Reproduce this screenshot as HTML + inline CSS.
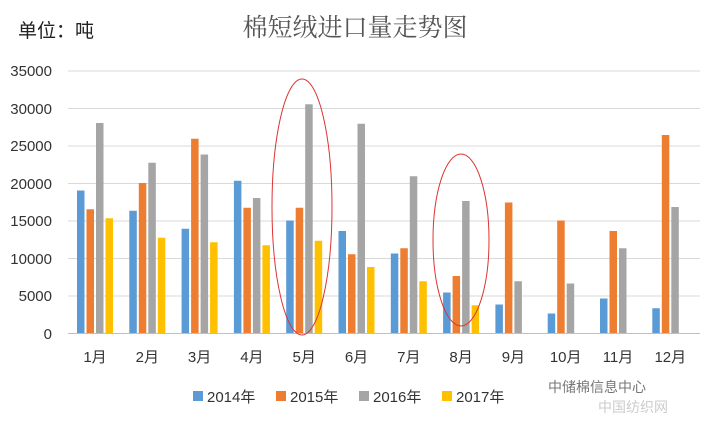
<!DOCTYPE html>
<html><head><meta charset="utf-8"><style>
body{margin:0;background:#fff;}
svg text{font-family:"Liberation Sans","Noto Sans CJK SC",sans-serif;}
</style></head><body>
<svg width="708" height="420" xmlns="http://www.w3.org/2000/svg">
<rect width="708" height="420" fill="#fff"/>
<text x="18" y="37" font-size="19" fill="#222">单位：吨</text>
<text x="355" y="36" font-size="25" fill="#555" text-anchor="middle" style="font-family:'Noto Serif CJK SC',serif">棉短绒进口量走势图</text>
<g stroke="#d9d9d9" stroke-width="1">
<line x1="68" y1="71" x2="700" y2="71"/><line x1="68" y1="108.5" x2="700" y2="108.5"/>
<line x1="68" y1="146" x2="700" y2="146"/><line x1="68" y1="183.5" x2="700" y2="183.5"/>
<line x1="68" y1="221" x2="700" y2="221"/><line x1="68" y1="258.5" x2="700" y2="258.5"/>
<line x1="68" y1="296" x2="700" y2="296"/>
</g>
<line x1="68" y1="333.5" x2="700" y2="333.5" stroke="#bfbfbf"/>
<g font-size="15" fill="#333" text-anchor="end">
<text x="52" y="76">35000</text><text x="52" y="114">30000</text><text x="52" y="151">25000</text>
<text x="52" y="189">20000</text><text x="52" y="226">15000</text><text x="52" y="264">10000</text>
<text x="52" y="301">5000</text><text x="52" y="339">0</text>
</g>
<g id="bars"></g>
<g font-size="15" fill="#333" text-anchor="middle" id="xl"></g>
<ellipse cx="302" cy="207" rx="30" ry="128" fill="none" stroke="#d33" stroke-width="1"/>
<ellipse cx="461" cy="240" rx="28" ry="86" fill="none" stroke="#d33" stroke-width="1"/>
<g font-size="15" fill="#333">
<rect x="193" y="391" width="10" height="10" fill="#5B9BD5"/><text x="207" y="402">2014年</text>
<rect x="276" y="391" width="10" height="10" fill="#ED7D31"/><text x="290" y="402">2015年</text>
<rect x="359" y="391" width="10" height="10" fill="#A5A5A5"/><text x="373" y="402">2016年</text>
<rect x="442" y="391" width="10" height="10" fill="#FFC000"/><text x="456" y="402">2017年</text>
</g>
<text x="548" y="392" font-size="14" fill="#777">中储棉信息中心</text>
<text x="598" y="412" font-size="14" fill="#ccc">中国纺织网</text>
<script>
var d=[[19000,16500,28000,15300],[16300,20000,22700,12700],[13900,25900,23800,12100],[20300,16700,18000,11700],[15000,16700,30500,12300],[13600,10500,27900,8800],[10600,11300,20900,6900],[5400,7600,17600,3700],[3800,17400,6900,0],[2600,15000,6600,0],[4600,13600,11300,0],[3300,26400,16800,0]];
var c=["#5B9BD5","#ED7D31","#A5A5A5","#FFC000"];
var g=document.getElementById("bars"),xl=document.getElementById("xl"),ns="http://www.w3.org/2000/svg";
for(var i=0;i<12;i++){var cx=95+i*52.3;
for(var j=0;j<4;j++){var v=d[i][j];if(!v)continue;var h=v*0.0075;var r=document.createElementNS(ns,"rect");
r.setAttribute("x",cx-18+j*9.5);r.setAttribute("y",333-h);r.setAttribute("width",7.5);r.setAttribute("height",h);r.setAttribute("fill",c[j]);g.appendChild(r);}
var t=document.createElementNS(ns,"text");t.setAttribute("x",cx);t.setAttribute("y",362);t.textContent=(i+1)+"月";xl.appendChild(t);}
</script>
</svg>
</body></html>
